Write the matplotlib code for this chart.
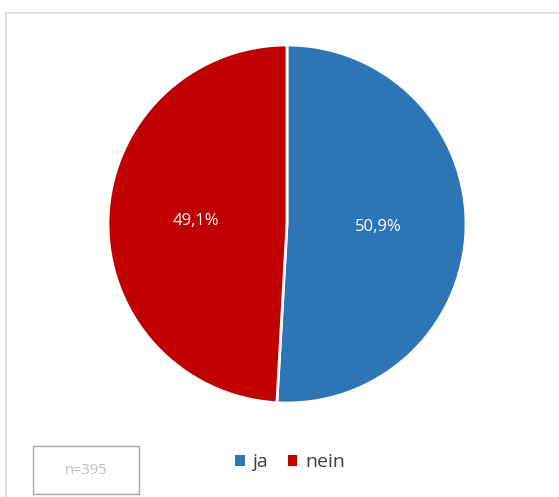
import numpy as np
import matplotlib.pyplot as plt
from matplotlib.patches import Rectangle, Patch

labels = ['ja', 'nein']
values = [50.9, 49.1]
colors = ['#2E75B6', '#C00000']
pct_labels = ['50,9%', '49,1%']
n_text = 'n=395'

plt.rcParams['font.family'] = ['Open Sans', 'DejaVu Sans']

fig = plt.figure(figsize=(5.59, 4.97), dpi=100)

# chart frame
fig.patches.append(Rectangle((6 / 559, -0.01), 1.0, 1 - 13 / 497 + 0.01,
                             transform=fig.transFigure, fill=False,
                             edgecolor='#d9d9d9', linewidth=1.2))

ax = fig.add_axes([(287 - 179) / 559, (497 - 224 - 179) / 497, 358 / 559, 358 / 497])
wedges, _ = ax.pie(values, colors=colors, startangle=90, counterclock=False,
                   wedgeprops=dict(edgecolor='white', linewidth=2))
ax.set_xlim(-1.0, 1.0)
ax.set_ylim(-1.0, 1.0)
ax.set_aspect('equal')

for w, txt in zip(wedges, pct_labels):
    mid = np.deg2rad((w.theta1 + w.theta2) / 2)
    ax.text(0.51 * np.cos(mid), 0.51 * np.sin(mid), txt, ha='center', va='center',
            color='white', fontsize=12)

handles = [Patch(facecolor=c, edgecolor='none') for c in colors]
fig.legend(handles, labels, loc='center', bbox_to_anchor=(290 / 559, 1 - 462 / 497),
           ncol=2, frameon=False, fontsize=14, handlelength=0.5, handleheight=0.5,
           handletextpad=0.4, columnspacing=1.0, labelcolor='#404040')

fig.patches.append(Rectangle((33 / 559, 1 - 494 / 497), 106 / 559, 48 / 497,
                             transform=fig.transFigure, fill=False,
                             edgecolor='#a6a6a6', linewidth=1))
fig.text(86 / 559, 1 - 470 / 497, n_text, ha='center', va='center',
         color='#bfbfbf', fontsize=10.5)

fig.savefig('out.png', dpi=100)
